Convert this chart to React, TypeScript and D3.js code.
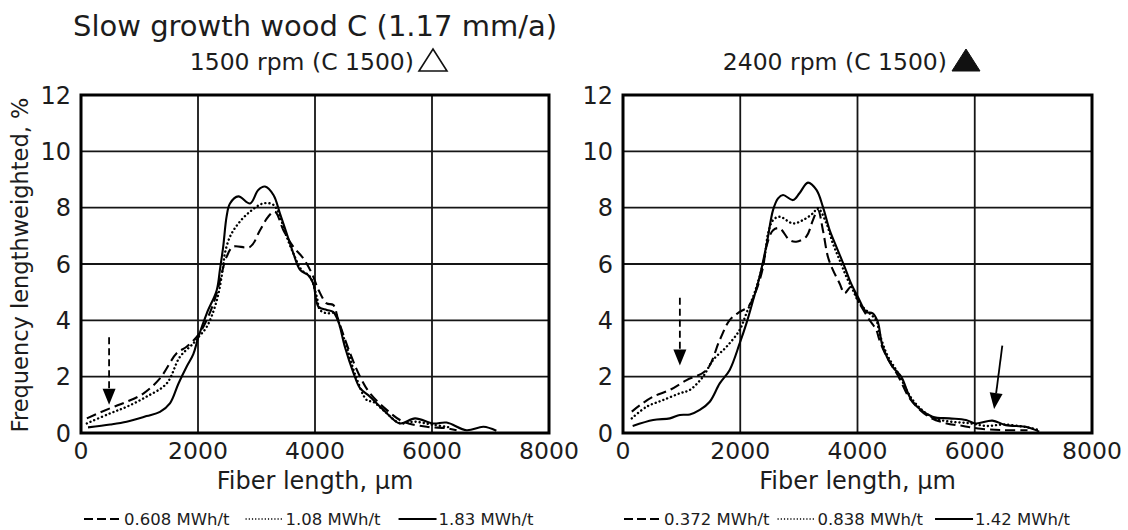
import React from "react";
import * as d3 from "d3";

const W = 1128;
const H = 530;

const xTicks = [0, 2000, 4000, 6000, 8000];
const yTicks = [0, 2, 4, 6, 8, 10, 12];

const title = "Slow growth wood C (1.17 mm/a)";
const xLabel = "Fiber length, µm";
const yLabel = "Frequency lengthweighted, %";

// Left panel: 1500 rpm
const leftSubtitle = "1500 rpm (C 1500)";
const leftLabels = ["0.608 MWh/t", "1.08 MWh/t", "1.83 MWh/t"];

const L1x = [100, 500, 780, 1065, 1350, 1635, 1805, 2005, 2175, 2320, 2405, 2490, 2600, 2890, 3060, 3200, 3315, 3460, 3630, 3800, 3945, 4060, 4200, 4310, 4400, 4600, 4770, 4940, 5225, 5510, 5910, 6250, 6420];
const L1y = [0.52, 0.88, 1.11, 1.4, 1.94, 2.83, 3.06, 3.48, 4.13, 4.96, 5.67, 6.26, 6.61, 6.61, 7.2, 7.68, 7.86, 7.2, 6.61, 6.2, 5.67, 5.08, 4.6, 4.55, 4.0, 2.83, 2.0, 1.41, 0.82, 0.4, 0.22, 0.17, 0.1];

const L2x = [100, 500, 780, 1120, 1465, 1690, 1920, 2005, 2150, 2320, 2430, 2460, 2547, 2690, 2890, 3115, 3290, 3400, 3515, 3630, 3770, 3915, 4030, 4085, 4200, 4340, 4430, 4550, 4700, 4885, 5000, 5200, 5450, 5700, 6000, 6300];
const L2y = [0.34, 0.7, 0.93, 1.29, 1.76, 2.7, 3.18, 3.4, 3.77, 4.7, 5.9, 6.38, 6.97, 7.44, 7.86, 8.15, 8.1, 7.68, 6.97, 6.38, 5.79, 5.55, 4.84, 4.37, 4.25, 4.25, 3.77, 3.0, 2.0, 1.17, 1.1, 0.75, 0.35, 0.4, 0.3, 0.2];

const L3x = [120, 500, 780, 1120, 1350, 1520, 1665, 1805, 1920, 2005, 2150, 2320, 2375, 2430, 2490, 2547, 2690, 2890, 3030, 3145, 3290, 3400, 3515, 3630, 3745, 3885, 3970, 4060, 4200, 4310, 4400, 4510, 4660, 4770, 4940, 5170, 5450, 5710, 6020, 6250, 6590, 6880, 7100];
const L3y = [0.2, 0.3, 0.4, 0.6, 0.75, 1.05, 1.75, 2.35, 2.8, 3.4, 4.25, 5.07, 5.8, 6.6, 7.7, 8.15, 8.4, 8.15, 8.63, 8.75, 8.45, 7.8, 7.09, 6.38, 5.79, 5.6, 5.31, 4.48, 4.37, 4.3, 3.95, 3.06, 2.12, 1.59, 1.29, 0.82, 0.34, 0.52, 0.34, 0.37, 0.1, 0.22, 0.08];

// Right panel: 2400 rpm
const rightSubtitle = "2400 rpm (C 1500)";
const rightLabels = ["0.372 MWh/t", "0.838 MWh/t", "1.42 MWh/t"];

const R1x = [150, 290, 515, 800, 1085, 1425, 1650, 1820, 1990, 2135, 2275, 2390, 2445, 2560, 2670, 2840, 2955, 3125, 3240, 3325, 3410, 3495, 3580, 3695, 3780, 3890, 4035, 4205, 4320, 4375, 4500, 4700, 4900, 5200, 5500, 5800, 6100, 6500, 6900];
const R1y = [0.76, 0.99, 1.29, 1.53, 1.88, 2.24, 3.3, 4.01, 4.3, 4.48, 5.08, 5.9, 6.61, 7.2, 7.27, 6.85, 6.79, 6.97, 7.56, 7.92, 7.2, 6.26, 5.79, 5.31, 4.96, 5.19, 4.6, 4.01, 3.66, 3.3, 2.7, 2.0, 1.2, 0.6, 0.35, 0.25, 0.15, 0.1, 0.1];

const R2x = [150, 400, 685, 970, 1140, 1365, 1535, 1765, 1990, 2105, 2220, 2330, 2420, 2475, 2560, 2670, 2900, 3070, 3240, 3325, 3470, 3580, 3695, 3810, 3920, 4035, 4205, 4320, 4375, 4500, 4700, 4950, 5280, 5600, 5900, 6200, 6500, 6900, 7100];
const R2y = [0.52, 0.93, 1.17, 1.41, 1.53, 2.0, 2.59, 3.06, 3.66, 4.25, 4.84, 5.55, 6.3, 7.09, 7.56, 7.68, 7.44, 7.56, 7.8, 7.98, 7.44, 6.73, 6.14, 5.55, 5.08, 4.6, 4.25, 4.0, 3.55, 2.8, 2.1, 1.15, 0.55, 0.4, 0.35, 0.25, 0.3, 0.2, 0.1];

const R3x = [165, 515, 800, 970, 1140, 1310, 1480, 1650, 1820, 1990, 2105, 2220, 2330, 2450, 2560, 2645, 2730, 2900, 3010, 3155, 3300, 3410, 3525, 3640, 3780, 3890, 4005, 4150, 4260, 4345, 4430, 4600, 4745, 4940, 5280, 5565, 5850, 6020, 6300, 6530, 6870, 7100];
const R3y = [0.25, 0.46, 0.52, 0.64, 0.66, 0.82, 1.11, 1.76, 2.24, 3.18, 3.89, 4.72, 5.55, 6.7, 7.92, 8.33, 8.45, 8.27, 8.51, 8.89, 8.63, 8.03, 7.2, 6.61, 5.9, 5.31, 4.84, 4.3, 4.25, 3.95, 3.06, 2.35, 2.0, 1.11, 0.58, 0.52, 0.46, 0.34, 0.44, 0.28, 0.22, 0.05];

// arrows in data units
const leftArrows = [{ x0: 480, y0: 3.4, x1: 480, y1: 1.0, dashed: true }];
const rightArrows = [
  { x0: 970, y0: 4.8, x1: 970, y1: 2.4, dashed: true },
  { x0: 6470, y0: 3.1, x1: 6330, y1: 0.85, dashed: false },
];

const styles = [
  { dash: "10,5", width: 2.1, cap: "butt" },
  { dash: "0.1,4", width: 2.4, cap: "round" },
  { dash: null, width: 2.1, cap: "butt" },
];

const FONT = "DejaVu Sans, Verdana, sans-serif";
const TXT = "#1c1c1c";

type Arrow = { x0: number; y0: number; x1: number; y1: number; dashed: boolean };

function Panel(props: {
  left: number;
  right: number;
  subtitle: string;
  subtitleEnd: number;
  filled: boolean;
  series: { x: number[]; y: number[] }[];
  labels: string[];
  legendStart: number;
  legendGaps: number[];
  arrows: Arrow[];
}) {
  const top = 95;
  const bottom = 433;
  const x = d3.scaleLinear().domain([0, 8000]).range([props.left, props.right]);
  const y = d3.scaleLinear().domain([0, 12]).range([bottom, top]);
  const line = d3
    .line<[number, number]>()
    .x((d) => x(d[0]))
    .y((d) => y(d[1]))
    .curve(d3.curveCatmullRom.alpha(0.5));

  const fs = 16.5;
  const approx = (s: string) => {
    let w = 0;
    for (const c of s) {
      if (c === "." || c === " ") w += 0.318;
      else if (c === "M") w += 0.863;
      else if (c === "W") w += 0.989;
      else if (c === "h") w += 0.634;
      else if (c === "/") w += 0.337;
      else if (c === "t") w += 0.392;
      else w += 0.636;
    }
    return w * fs;
  };
  const legendItems: { lx: number; tx: number }[] = [];
  let cur = props.legendStart;
  props.labels.forEach((lab, i) => {
    const lx = cur;
    cur += 38 + 2;
    legendItems.push({ lx, tx: cur });
    cur += approx(lab) + props.legendGaps[i];
  });

  const cx = (props.left + props.right) / 2;
  const tri = props.subtitleEnd + 5;

  return (
    <g>
      <text x={props.subtitleEnd} y={70} textAnchor="end" fontSize={23.5} fill={TXT} fontFamily={FONT}>
        {props.subtitle}
      </text>
      <path
        d={`M${tri},71 L${tri + 28},71 L${tri + 14},49 Z`}
        fill={props.filled ? "#111" : "none"}
        stroke="#111"
        strokeWidth={props.filled ? 1 : 1.6}
      />
      {xTicks.slice(1, -1).map((t) => (
        <line key={"gx" + t} x1={x(t)} x2={x(t)} y1={top} y2={bottom} stroke="#151515" strokeWidth={1.8} />
      ))}
      {yTicks.slice(1, -1).map((t) => (
        <line key={"gy" + t} x1={props.left} x2={props.right} y1={y(t)} y2={y(t)} stroke="#151515" strokeWidth={1.8} />
      ))}
      {props.series.map((s, i) => (
        <path
          key={"s" + i}
          d={line(s.x.map((v, j) => [v, s.y[j]] as [number, number])) || ""}
          fill="none"
          stroke="#000"
          strokeWidth={styles[i].width}
          strokeDasharray={styles[i].dash || undefined}
          strokeLinecap={styles[i].cap as any}
          strokeLinejoin="round"
        />
      ))}
      {props.arrows.map((a, i) => {
        const X0 = x(a.x0), Y0 = y(a.y0), X1 = x(a.x1), Y1 = y(a.y1);
        const ang = Math.atan2(Y1 - Y0, X1 - X0);
        const hl = 16, hw = 6.5;
        const bx = X1 - hl * Math.cos(ang), by = Y1 - hl * Math.sin(ang);
        const px = -Math.sin(ang) * hw, py = Math.cos(ang) * hw;
        return (
          <g key={"a" + i}>
            <line x1={X0} y1={Y0} x2={bx} y2={by} stroke="#000" strokeWidth={1.8} strokeDasharray={a.dashed ? "7,4" : undefined} />
            <path d={`M${X1},${Y1} L${bx + px},${by + py} L${bx - px},${by - py} Z`} fill="#000" />
          </g>
        );
      })}
      <rect x={props.left} y={top} width={props.right - props.left} height={bottom - top} fill="none" stroke="#000" strokeWidth={3} />
      {yTicks.map((t) => (
        <text key={"yl" + t} x={props.left - 10} y={y(t) + 8.5} textAnchor="end" fontSize={24} fill={TXT} fontFamily={FONT}>
          {t}
        </text>
      ))}
      {xTicks.map((t) => (
        <text key={"xl" + t} x={x(t)} y={459} textAnchor="middle" fontSize={23.5} fill={TXT} fontFamily={FONT}>
          {t}
        </text>
      ))}
      <text x={cx} y={489} textAnchor="middle" fontSize={24} fill={TXT} fontFamily={FONT}>
        {xLabel}
      </text>
      {props.labels.map((lab, i) => (
        <g key={"lg" + i}>
          <line
            x1={legendItems[i].lx}
            x2={legendItems[i].lx + 38}
            y1={519}
            y2={519}
            stroke="#000"
            strokeWidth={i === 1 ? 1.5 : 2}
            strokeDasharray={i === 0 ? "9,4" : i === 1 ? "1.2,2" : undefined}
          />
          <text x={legendItems[i].tx} y={525} fontSize={fs} fill={TXT} fontFamily={FONT}>
            {lab}
          </text>
        </g>
      ))}
    </g>
  );
}

export default function App() {
  return (
    <svg
      width={W}
      height={H}
      viewBox={`0 0 ${W} ${H}`}
      style={{ position: "absolute", left: 0, top: 0, background: "#fff" }}
    >
      <rect width={W} height={H} fill="#fff" />
      <text x={73} y={36} fontSize={29} fill={TXT} fontFamily={FONT}>
        {title}
      </text>
      <text
        transform="translate(28,265) rotate(-90)"
        textAnchor="middle"
        fontSize={22.5}
        fill={TXT}
        fontFamily={FONT}
      >
        {yLabel}
      </text>
      <Panel
        left={81}
        right={549}
        subtitle={leftSubtitle}
        subtitleEnd={414}
        filled={false}
        series={[
          { x: L1x, y: L1y },
          { x: L2x, y: L2y },
          { x: L3x, y: L3y },
        ]}
        labels={leftLabels}
        legendStart={84}
        legendGaps={[16, 18, 0]}
        arrows={leftArrows}
      />
      <Panel
        left={623}
        right={1092}
        subtitle={rightSubtitle}
        subtitleEnd={947}
        filled={true}
        series={[
          { x: R1x, y: R1y },
          { x: R2x, y: R2y },
          { x: R3x, y: R3y },
        ]}
        labels={rightLabels}
        legendStart={624}
        legendGaps={[8, 12, 0]}
        arrows={rightArrows}
      />
    </svg>
  );
}
